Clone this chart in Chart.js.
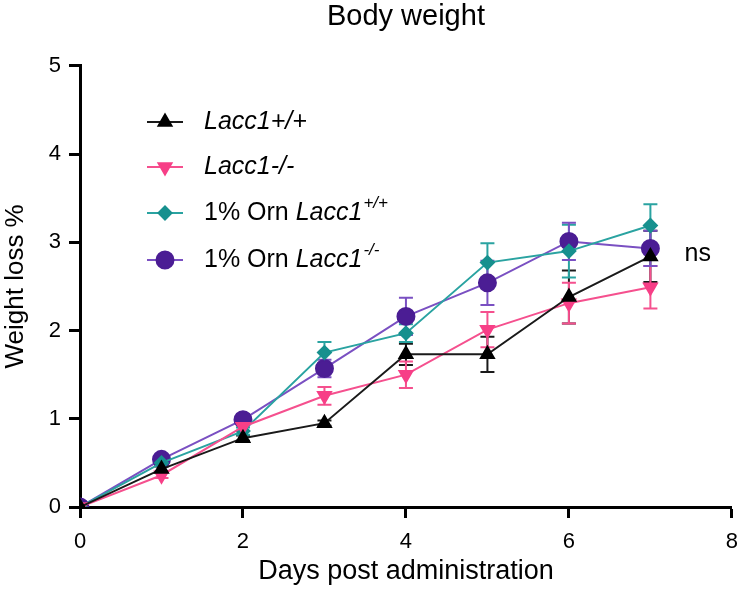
<!DOCTYPE html>
<html>
<head>
<meta charset="utf-8">
<script src="https://cdn.jsdelivr.net/npm/chart.js@4"></script>
<style>
html, body { margin: 0; padding: 0; background: #fff; }
</style>
</head>
<body>
<canvas id="chart" width="749" height="591"></canvas>
<script>
/* ===== DATA ===== */
const DAYS = [0, 1, 2, 3, 4, 5, 6, 7];

const WT = [0, 0.43, 0.78, 0.95, 1.73, 1.73, 2.38, 2.84];
const WT_ERR = [0, 0.03, 0.03, 0.03, 0.12, 0.2, 0.3, 0.29];

const KO = [0, 0.36, 0.91, 1.26, 1.5, 2.01, 2.31, 2.49];
const KO_ERR = [0, 0.03, 0.05, 0.1, 0.15, 0.2, 0.23, 0.24];

const ORN_WT = [0, 0.5, 0.86, 1.75, 1.97, 2.77, 2.9, 3.19];
const ORN_WT_ERR = [0, 0.03, 0.04, 0.12, 0.1, 0.22, 0.3, 0.24];

const ORN_KO = [0, 0.54, 0.99, 1.57, 2.16, 2.54, 3.01, 2.93];
const ORN_KO_ERR = [0, 0.04, 0.06, 0.1, 0.21, 0.25, 0.21, 0.2];

const FONT = "'Liberation Sans', Arial, Helvetica, sans-serif";

/* ===== SERIES STYLE ===== */
const SERIES = [
  { values: WT, errors: WT_ERR, line: "#1a1a1a", fill: "#000000", style: "triangle", radius: 7.5, rotation: 0,
    label: [["Lacc1+/+", "italic"]] },
  { values: KO, errors: KO_ERR, line: "#f5508e", fill: "#f73f87", style: "triangle", radius: 7.5, rotation: 180,
    label: [["Lacc1-/-", "italic"]] },
  { values: ORN_WT, errors: ORN_WT_ERR, line: "#2aa3a1", fill: "#17908e", style: "rectRot", radius: 6.5, rotation: 0,
    label: [["1% Orn ", "normal"], ["Lacc1", "italic"], ["+/+", "sup"]] },
  { values: ORN_KO, errors: ORN_KO_ERR, line: "#7a50c2", fill: "#4b1d94", style: "circle", radius: 8.5, rotation: 0,
    label: [["1% Orn ", "normal"], ["Lacc1", "italic"], ["-/-", "sup"]] },
];

const LEGEND_ROWS = [122, 167, 213, 260];

/* ===== ERROR BARS ===== */
const errorBars = {
  id: "errorBars",
  beforeDatasetsDraw(chart) {
    const { ctx, scales: { x, y } } = chart;
    SERIES.forEach((s) => {
      ctx.save();
      ctx.strokeStyle = s.line;
      ctx.lineWidth = 2;
      s.values.forEach((v, j) => {
        const e = s.errors[j];
        if (!e) return;
        const px = x.getPixelForValue(DAYS[j]);
        const top = y.getPixelForValue(v + e);
        const bot = y.getPixelForValue(v - e);
        ctx.beginPath();
        ctx.moveTo(px, top); ctx.lineTo(px, bot);
        ctx.moveTo(px - 7, top); ctx.lineTo(px + 7, top);
        ctx.moveTo(px - 7, bot); ctx.lineTo(px + 7, bot);
        ctx.stroke();
      });
      ctx.restore();
    });
  },
};

/* ===== LEGEND + NS ===== */
const legendBox = {
  id: "legendBox",
  afterDraw(chart) {
    const ctx = chart.ctx;
    SERIES.forEach((s, i) => {
      const cy = LEGEND_ROWS[i];
      ctx.save();
      ctx.strokeStyle = s.line;
      ctx.lineWidth = 2;
      ctx.beginPath();
      ctx.moveTo(147, cy);
      ctx.lineTo(183, cy);
      ctx.stroke();
      ctx.fillStyle = s.fill;
      ctx.strokeStyle = s.fill;
      Chart.helpers.drawPoint(ctx, { pointStyle: s.style, radius: s.radius, rotation: s.rotation, borderWidth: 1 }, 165, cy);

      let tx = 204;
      ctx.fillStyle = "#000";
      ctx.textBaseline = "middle";
      s.label.forEach(([txt, kind]) => {
        if (kind === "sup") {
          ctx.font = `italic 17px ${FONT}`;
          ctx.fillText(txt, tx + 1, cy - 10);
        } else {
          ctx.font = `${kind === "italic" ? "italic " : ""}25px ${FONT}`;
          ctx.fillText(txt, tx, cy);
        }
        tx += ctx.measureText(txt).width;
      });
      ctx.restore();
    });

    const { x, y } = chart.scales;
    ctx.save();
    ctx.fillStyle = "#000";
    ctx.font = `25px ${FONT}`;
    ctx.textBaseline = "middle";
    ctx.fillText("ns", x.getPixelForValue(7.42), y.getPixelForValue(2.87));
    ctx.restore();
  },
};

/* ===== CHART ===== */
new Chart(document.getElementById("chart"), {
  type: "line",
  data: {
    datasets: SERIES.map((s) => ({
      data: s.values.map((v, j) => ({ x: DAYS[j], y: v })),
      borderColor: s.line,
      borderWidth: 2,
      backgroundColor: s.fill,
      pointBackgroundColor: s.fill,
      pointBorderColor: s.fill,
      pointStyle: s.style,
      pointRadius: s.radius,
      pointRotation: s.rotation,
      tension: 0,
    })),
  },
  options: {
    responsive: false,
    animation: false,
    layout: { padding: { right: 12 } },
    plugins: {
      legend: { display: false },
      tooltip: { enabled: false },
      title: {
        display: true,
        fullSize: false,
        text: "Body weight",
        color: "#000",
        font: { family: FONT, size: 29, weight: "normal" },
        padding: { top: 0, bottom: 31 },
      },
    },
    scales: {
      x: {
        type: "linear",
        min: 0,
        max: 8,
        afterFit: (s) => { s.height = 84; },
        ticks: { stepSize: 2, color: "#000", font: { family: FONT, size: 22 }, padding: 11 },
        grid: { drawOnChartArea: false, tickLength: 11, tickColor: "#000", tickWidth: 3 },
        border: { color: "#000", width: 3 },
        title: {
          display: true,
          text: "Days post administration",
          color: "#000",
          font: { family: FONT, size: 27 },
          padding: { top: 0, bottom: 3 },
        },
      },
      y: {
        min: 0,
        max: 5,
        afterFit: (s) => { s.width = 80; },
        ticks: { stepSize: 1, color: "#000", font: { family: FONT, size: 22 }, padding: 8 },
        grid: { drawOnChartArea: false, tickLength: 11, tickColor: "#000", tickWidth: 3 },
        border: { color: "#000", width: 3 },
        title: {
          display: true,
          text: "Weight loss %",
          color: "#000",
          font: { family: FONT, size: 26 },
          padding: { top: 0, bottom: 0 },
        },
      },
    },
  },
  plugins: [errorBars, legendBox],
});
</script>
</body>
</html>
